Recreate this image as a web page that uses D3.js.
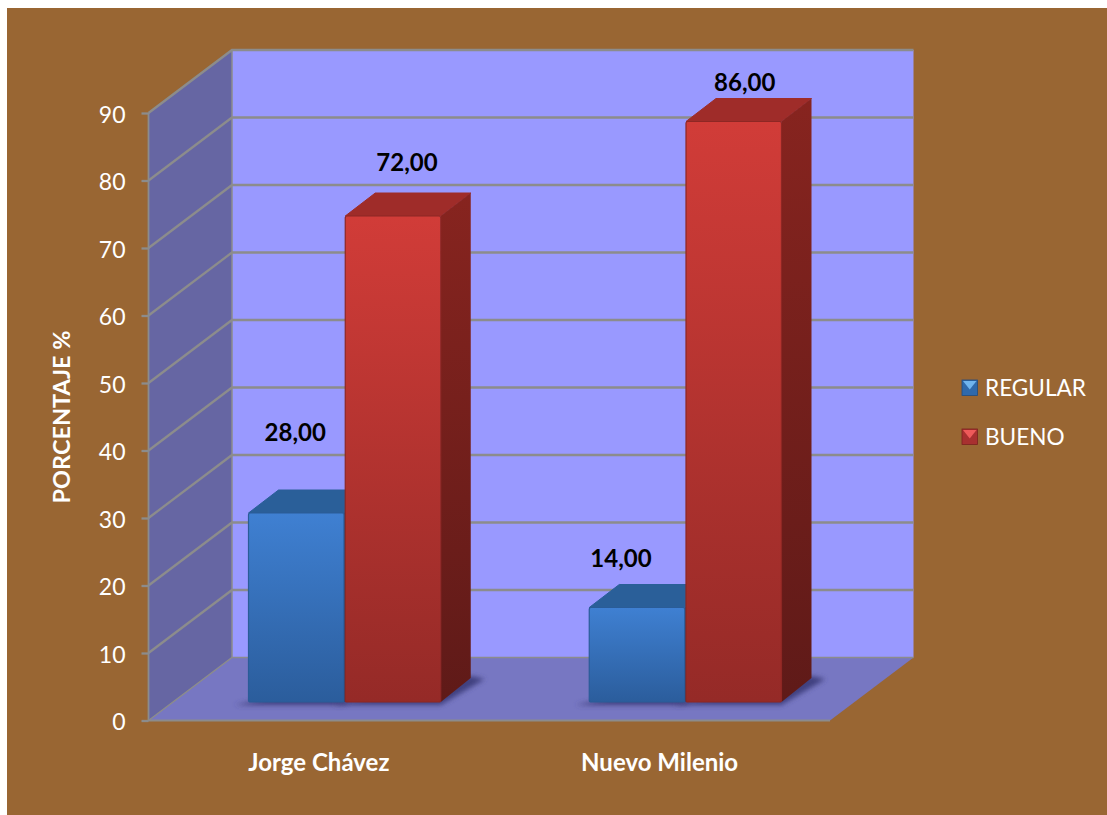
<!DOCTYPE html>
<html><head><meta charset="utf-8">
<script src="https://cdn.jsdelivr.net/npm/d3@7/dist/d3.min.js"></script>
<style>html,body{margin:0;padding:0;background:#fff}svg{display:block}text{font-family:Lato,"Open Sans",sans-serif}</style>
</head><body><svg id="c" width="1107" height="815"></svg>
<script>
const categories = ["Jorge Chávez", "Nuevo Milenio"];
const seriesNames = ["REGULAR", "BUENO"];
const regular = [28, 14];
const bueno = [72, 86];
const yTicks = [0,10,20,30,40,50,60,70,80,90];
const axisTitle = "PORCENTAJE %";

// layout only
const L = {x0:148.5,x1:830,y0:720.5,y1:113,wx:83.5,wy:63,bx:24,by:18.5,dx:30,dy:24,bw:96,gap:1.5,lead:76};
const nudges = [[[-1,-72],[14,-45]],[[-16,-41],[11,-31]]];
const svg = d3.select("#c");
const defs = svg.append("defs");
const lin = (id,a,b)=>{const g=defs.append("linearGradient").attr("id",id).attr("x1",0).attr("y1",0).attr("x2",0).attr("y2",1);
  g.append("stop").attr("offset",0).attr("stop-color",a);g.append("stop").attr("offset",1).attr("stop-color",b);};
lin("fb","#3f80d2","#2b5d9c");lin("fr","#d13c38","#952a27");
lin("sb","#24558c","#1c426e");lin("sr","#87241f","#5f1a18");
defs.append("filter").attr("id","blur").attr("x","-20%").attr("y","-50%").attr("width","140%").attr("height","200%")
  .append("feGaussianBlur").attr("stdDeviation",2.5);

svg.append("rect").attr("x",7).attr("y",8).attr("width",1100).attr("height",807).attr("fill","#996633");

const y = d3.scaleLinear().domain([0,90]).range([L.y0,L.y1]);
const x = d3.scaleBand().domain(categories).range([L.x0,L.x1]);
const xs = d3.scaleBand().domain(seriesNames).range([0,L.bw*2+L.gap]);
const poly = (g,pts,fill)=>g.append("polygon").attr("points",pts.map(p=>p.join(",")).join(" ")).attr("fill",fill);
const grid = "#8c8c8c";

// walls
const yTop = y(90), yBot = y(0);
poly(svg,[[L.x0+L.wx,yTop-L.wy],[L.x1+L.wx,yTop-L.wy],[L.x1+L.wx,yBot-L.wy],[L.x0+L.wx,yBot-L.wy]],"#9999ff");
poly(svg,[[L.x0,yTop],[L.x0+L.wx,yTop-L.wy],[L.x0+L.wx,yBot-L.wy],[L.x0,yBot]],"#6666a3");
poly(svg,[[L.x0,yBot],[L.x0+L.wx,yBot-L.wy],[L.x1+L.wx,yBot-L.wy],[L.x1,yBot]],"#7777c2");

// gridlines
const gl = svg.append("g").attr("stroke",grid).attr("fill","none");
yTicks.forEach(t=>{
  const v=y(t);
  gl.append("path").attr("stroke-width",t===0?1.5:2.3).attr("d",`M${L.x0},${v}L${L.x0+L.wx},${v-L.wy}L${L.x1+L.wx},${v-L.wy}`);
});
gl.append("path").attr("stroke-width",1.8).attr("d",`M${L.x0},${yTop}V${yBot}H${L.x1}`);
gl.append("path").attr("stroke-width",1.5).attr("d",`M${L.x0+L.wx},${yTop-L.wy}V${yBot-L.wy}`);

// axis
const ax = svg.append("g").attr("transform",`translate(${L.x0},0)`)
  .call(d3.axisLeft(y).tickValues(yTicks).tickSize(7).tickPadding(16));
ax.select(".domain").remove();
ax.selectAll("line").attr("stroke",grid).attr("stroke-width",2.3);
ax.selectAll("text").attr("fill","#fff").attr("dy","0.41em").style("font-size","23px").style("font-family","Lato");

// bars
const rows = [regular,bueno];
const fills = [["fb","#2a5f99","sb"],["fr","#9f2c29","sr"]];
const marks = svg.append("g");
categories.forEach((c,ci)=>{
  const g = marks.append("g");
  rows.forEach((vals,si)=>{
    const bx0 = x(c)+L.bx+L.lead+xs(seriesNames[si]), w = L.bw-0.5;
    const by1 = y(0)-L.by;
    poly(g,[[bx0-14,by1+3],[bx0+w,by1+3],[bx0+w+L.dx+14,by1-L.dy+1],[bx0+w+L.dx,by1-L.dy-2]],"#41417f").attr("filter","url(#blur)");
  });
  rows.forEach((vals,si)=>{
    const bx0 = x(c)+L.bx+L.lead+xs(seriesNames[si]), w = L.bw-0.5;
    const by1 = y(0)-L.by, by0 = y(vals[ci])-L.by;
    const [f,tc,s] = fills[si];
    poly(g,[[bx0,by0],[bx0+L.dx,by0-L.dy+1],[bx0+w+L.dx,by0-L.dy+1],[bx0+w,by0]],tc).attr("stroke",tc).attr("stroke-linejoin","round").attr("stroke-width",1);
    poly(g,[[bx0+w,by0],[bx0+w+L.dx,by0-L.dy+1],[bx0+w+L.dx,by1-L.dy],[bx0+w,by1]],`url(#${s})`);
    g.append("rect").attr("x",bx0).attr("y",by0).attr("width",w).attr("height",by1-by0).attr("rx",2).attr("fill",`url(#${f})`)
      .attr("stroke",si?"#8e2724":"#2a5c98").attr("stroke-width",1.2);
    const n = nudges[ci][si];
    svg.append("text").attr("x",bx0+w/2+n[0]).attr("y",by0+n[1]).attr("text-anchor","middle")
      .attr("fill","#000").style("font-weight",700).style("font-size","24px").text(d3.format(".2f")(vals[ci]).replace(".",","));
  });
});

// category labels
categories.forEach(c=>svg.append("text").attr("x",x(c)+x.bandwidth()/2).attr("y",771).attr("text-anchor","middle")
  .attr("fill","#fff").style("font-weight",700).style("font-size","24px").text(c));

// axis title
svg.append("text").attr("transform","translate(70,417) rotate(-90)").attr("text-anchor","middle")
  .attr("fill","#fff").style("font-weight",700).style("font-size","23.5px").text(axisTitle);

// legend
const legCols = [["#2f69ab","#6fb4ee","#204c80"],["#a83030","#ee5a5a","#7c2220"]];
const ly = d3.scalePoint().domain(seriesNames).range([388,437]);
seriesNames.forEach((n,i)=>{
  const cy=ly(n), lx=962, s=15.5, t=cy-8;
  const [m,l,d]=legCols[i];
  svg.append("rect").attr("x",lx).attr("y",t).attr("width",s).attr("height",s).attr("fill",m).attr("stroke",d).attr("stroke-width",.8);
  poly(svg,[[lx+1,t+1],[lx+s-1,t+1],[lx+s/2,t+s*0.62]],l);
  svg.append("text").attr("x",985).attr("y",cy+8).attr("fill","#fff").style("font-size","22.6px").text(n);
});
</script></body></html>
